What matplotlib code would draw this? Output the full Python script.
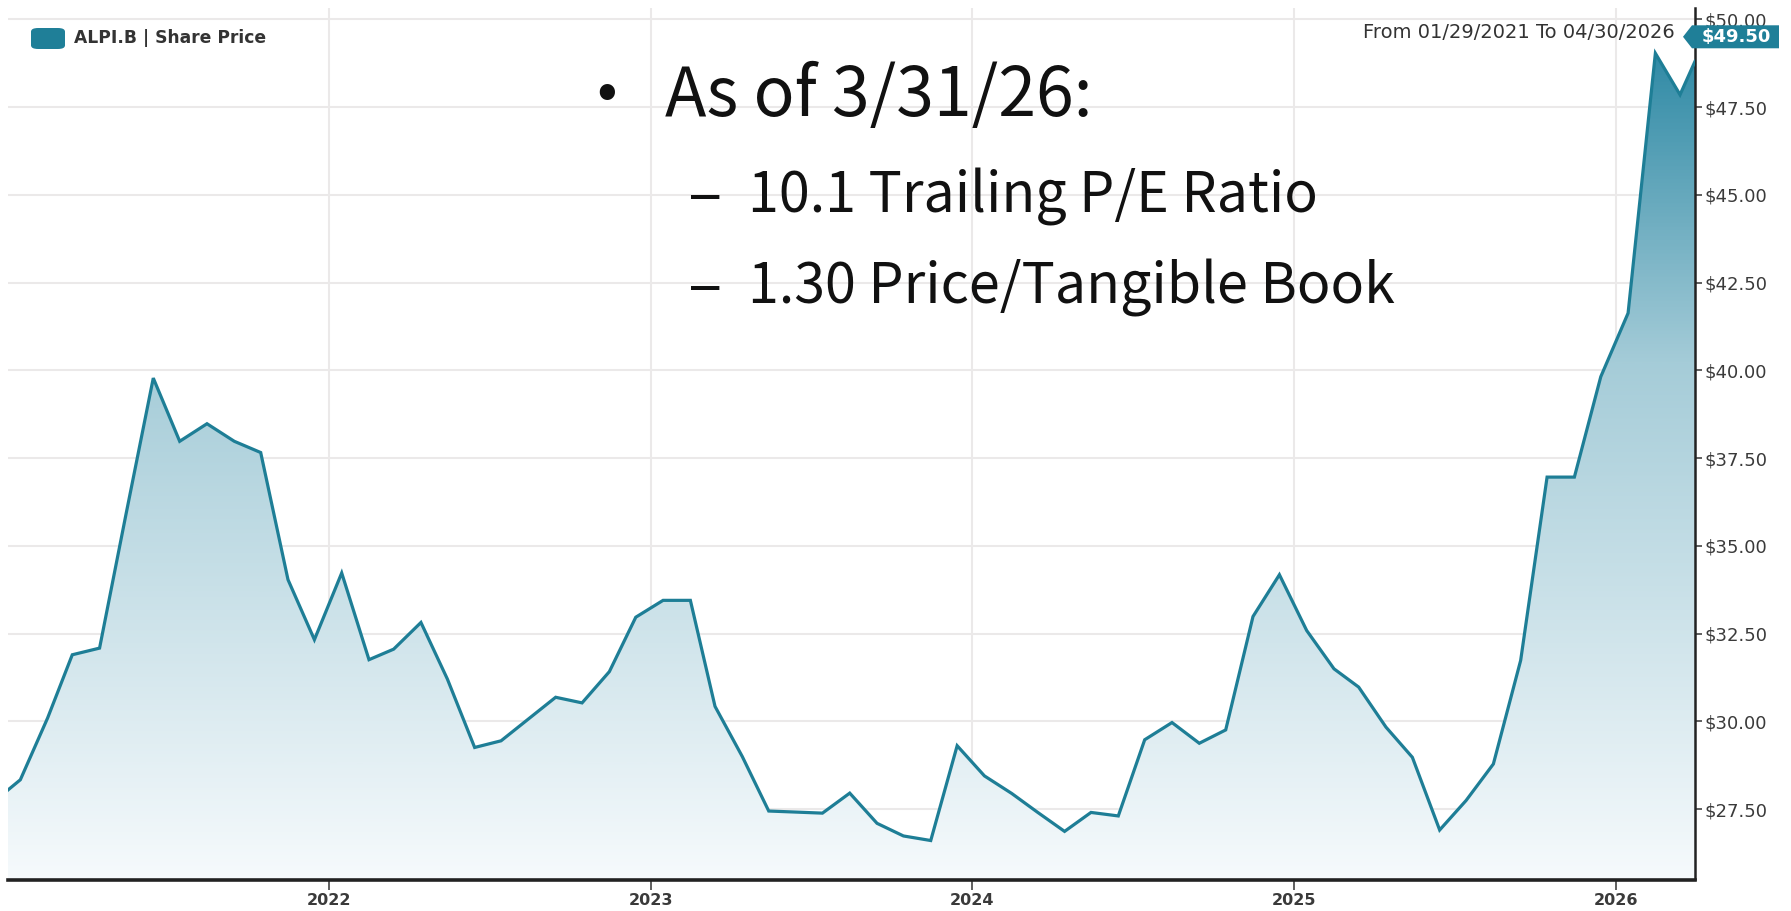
import numpy as np
import pandas as pd
import matplotlib.pyplot as plt
import matplotlib.dates as mdates
import matplotlib.transforms as mtransforms
from matplotlib.colors import LinearSegmentedColormap
from matplotlib.patches import Polygon, FancyBboxPatch

# share price: first print, mid-month points Jan 2021 .. Mar 2026, last print
start_price = 28.05
monthly_prices = [
    28.34, 30.10, 31.90, 32.09, 35.90, 39.78, 37.98, 38.48, 37.98, 37.66, 34.04, 32.33,  # 2021
    34.23, 31.76, 32.06, 32.82, 31.21, 29.26, 29.45, 30.07, 30.69, 30.53, 31.42, 32.97,  # 2022
    33.45, 33.45, 30.43, 29.00, 27.45, 27.42, 27.39, 27.96, 27.10, 26.74, 26.61, 29.31,  # 2023
    28.45, 27.95, 27.42, 26.87, 27.41, 27.31, 29.48, 29.97, 29.38, 29.76, 32.99, 34.18,  # 2024
    32.59, 31.50, 30.98, 29.84, 28.98, 26.91, 27.75, 28.79, 31.74, 36.96, 36.96, 39.82,  # 2025
    41.63, 49.03, 47.85,                                                                 # 2026
]
end_price = 48.80
last_tag = 49.50
year_ticks = [2022, 2023, 2024, 2025, 2026]
price_ticks = [27.5, 30.0, 32.5, 35.0, 37.5, 40.0, 42.5, 45.0, 47.5, 50.0]
legend_label = "ALPI.B | Share Price"
range_label = "From 01/29/2021 To 04/30/2026"
notes_title = "As of 3/31/26:"
notes = ["10.1 Trailing P/E Ratio", "1.30 Price/Tangible Book"]

dates = ([pd.Timestamp("2021-01-01")]
         + list(pd.date_range("2021-01-01", periods=len(monthly_prices), freq="MS") + pd.Timedelta(days=14))
         + [pd.Timestamp("2026-04-01")])
prices = [start_price] + monthly_prices + [end_price]

TEAL = "#1e7e96"
W, H = 1791, 911
fig = plt.figure(figsize=(W / 100, H / 100), dpi=100)
ax = fig.add_axes([8 / W, (H - 879.5) / H, (1695 - 8) / W, 871.5 / H])

x0, x1 = mdates.date2num(pd.Timestamp("2021-01-01")), mdates.date2num(pd.Timestamp("2026-04-01"))
y0, y1 = 25.50, 50.32
ax.set_xlim(x0, x1)
ax.set_ylim(y0, y1)

# gradient area under the line
cmap = LinearSegmentedColormap.from_list(
    "tealfade", [(0.0, "#f6fafc"), (0.6, "#a5ccd8"), (1.0, "#2383a0")])
fill = ax.fill_between(dates, prices, y0, color="none", lw=0)
grad = np.linspace(0, 1, 512).reshape(-1, 1)
im = ax.imshow(grad, extent=[x0, x1, y0, 50.0], origin="lower", aspect="auto",
               cmap=cmap, zorder=1)
im.set_clip_path(fill.get_paths()[0], transform=ax.transData)
ax.plot(dates, prices, color=TEAL, lw=2.3, zorder=3, solid_joinstyle="miter")

# grid and axes
ax.set_yticks(price_ticks)
ax.set_xticks([mdates.date2num(pd.Timestamp(f"{y}-01-01")) for y in year_ticks])
ax.set_xticklabels([str(y) for y in year_ticks])
ax.set_yticklabels([f"${v:.2f}" for v in price_ticks])
ax.grid(True, color="#ebe9e9", lw=1.5, zorder=0)
ax.set_axisbelow(True)
ax.yaxis.tick_right()
for s in ["left", "top"]:
    ax.spines[s].set_visible(False)
ax.spines["bottom"].set_linewidth(2.6)
ax.spines["bottom"].set_color("#222222")
ax.spines["right"].set_linewidth(1.8)
ax.spines["right"].set_color("#222222")
ax.tick_params(axis="y", direction="out", length=5, width=1.2, color="#444444",
               labelsize=13, labelcolor="#3a3a3a", pad=2)
ax.tick_params(axis="x", direction="out", length=7, width=1.2, color="#444444",
               labelsize=11.5, labelcolor="#3a3a3a", pad=3)
for lab in ax.get_xticklabels():
    lab.set_fontweight("bold")

# legend chip
fig.patches.append(FancyBboxPatch((31 / W, 1 - 49 / H), 34 / W, 21 / H,
                                  boxstyle="round,pad=0,rounding_size=0.004",
                                  transform=fig.transFigure, fc="#1f7f98", ec="none"))
fig.text(74 / W, 1 - 38 / H, legend_label, fontsize=12.3, color="#333333",
         va="center", ha="left", fontweight="bold",
         bbox=dict(fc="white", ec="none", pad=2, alpha=0.9))

# date range label and last price tag
fig.text(1675 / W, 1 - 32 / H, range_label, fontsize=14, color="#333333",
         va="center", ha="right")
anchor = mtransforms.blended_transform_factory(ax.transAxes, ax.transData)
tag_trans = fig.dpi_scale_trans + mtransforms.ScaledTranslation(1.0, last_tag, anchor)
tag = Polygon([(-0.12, 0.0), (-0.03, 0.115), (0.84, 0.115), (0.84, -0.115), (-0.03, -0.115)],
              closed=True, fc="#1f7f98", ec="none", transform=tag_trans, clip_on=False, zorder=5)
fig.add_artist(tag)
fig.text(0.41, 0.0, f"${last_tag:.2f}", transform=tag_trans, color="white", fontsize=13,
         fontweight="bold", ha="center", va="center", zorder=6)

# slide notes
note_font = ["Noto Sans CJK JP", "DejaVu Sans"]
fig.text(607 / W, 1 - 93 / H, "\u2022", fontsize=44, family=note_font,
         ha="center", va="center", color="#111111")
fig.text(665 / W, 1 - 97 / H, notes_title, fontsize=49, family=note_font,
         ha="left", va="center", color="#111111")
for i, line in enumerate(notes):
    yy = 1 - (197 + 91 * i) / H
    fig.text(688 / W, yy, "\u2013", fontsize=46, family=note_font,
             ha="left", va="center", color="#111111")
    fig.text(748 / W, yy, line, fontsize=40, family=note_font,
             ha="left", va="center", color="#111111")

fig.savefig("out.png", dpi=100)
